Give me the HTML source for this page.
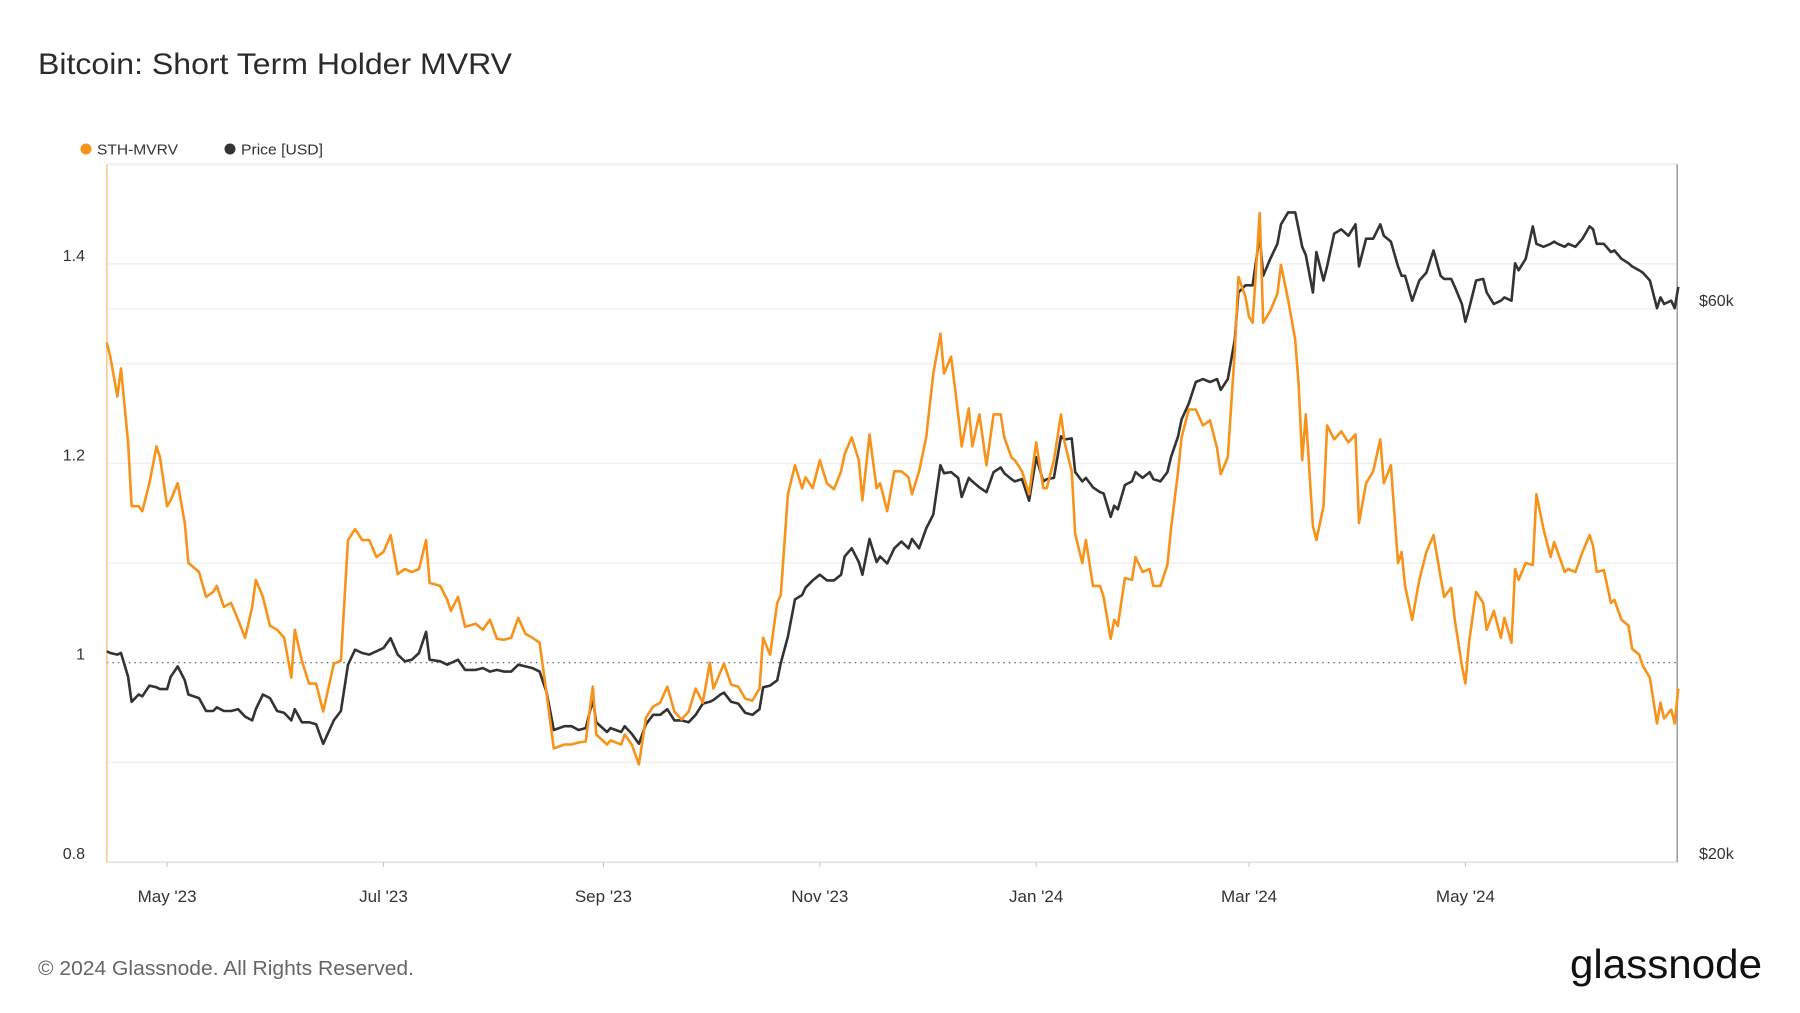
<!DOCTYPE html>
<html><head><meta charset="utf-8"><title>Bitcoin: Short Term Holder MVRV</title>
<style>
html,body{margin:0;padding:0;background:#fff;width:1800px;height:1013px;overflow:hidden;}
svg text{font-family:"Liberation Sans",Arial,sans-serif;}
</style></head>
<body>
<svg id="chart" width="1800" height="1013" viewBox="0 0 1800 1013" xmlns="http://www.w3.org/2000/svg">
  <text x="38" y="74" font-size="30" fill="#2b2b2b" textLength="474" lengthAdjust="spacingAndGlyphs">Bitcoin: Short Term Holder MVRV</text>
  <g>
    <g>
      <circle cx="86" cy="149" r="5.5" fill="#f7931a"/>
      <text x="97" y="154.5" font-size="15" fill="#333" textLength="81" lengthAdjust="spacingAndGlyphs">STH-MVRV</text>
    </g>
    <g>
      <circle cx="230" cy="149" r="5.5" fill="#333"/>
      <text x="241" y="154.5" font-size="15" fill="#333" textLength="82" lengthAdjust="spacingAndGlyphs">Price [USD]</text>
    </g>
  </g>
  <g id="grid"></g>
  <g id="axes"></g>
  <g id="series"></g>
  <text x="38" y="975" font-size="20" fill="#666" textLength="376" lengthAdjust="spacingAndGlyphs">© 2024 Glassnode. All Rights Reserved.</text>
  <text x="1570" y="978" font-size="41" fill="#111" textLength="192" lengthAdjust="spacingAndGlyphs">glassnode</text>
</svg>
<script>
// ---- data (days since 2023-04-14) ----
const days = [0,1,3,4,6,7,9,10,12,14,15,17,18,20,22,23,26,28,30,31,33,35,37,39,41,42,44,46,48,50,52,53,55,57,59,61,64,66,68,70,72,74,76,78,80,82,84,86,88,90,91,94,96,97,99,101,104,106,108,110,112,114,116,118,120,122,124,126,129,131,133,135,137,138,141,142,145,146,148,150,152,154,156,158,160,162,164,166,168,170,171,173,174,176,178,180,182,184,185,187,189,190,192,194,196,197,199,201,203,205,207,208,210,212,213,215,217,218,220,222,224,226,227,229,231,233,235,236,238,240,241,243,244,246,248,250,252,253,255,256,258,260,262,264,265,267,269,270,272,273,275,276,278,280,281,283,284,285,287,289,290,292,294,295,297,299,300,302,303,305,307,309,311,313,314,316,318,319,321,322,323,325,326,328,330,331,333,335,336,337,338,340,341,343,344,346,348,350,352,353,355,357,359,360,362,364,365,366,368,370,372,374,376,377,379,380,382,383,384,386,388,389,391,393,394,396,397,398,400,402,403,405,407,408,409,411,412,414,416,418,419,420,422,424,425,427,429,430,432,433,435,437,438,439,441,442,443];
const mvrv = [1.321,1.307,1.267,1.295,1.221,1.157,1.157,1.152,1.180,1.217,1.206,1.157,1.163,1.180,1.140,1.100,1.091,1.066,1.071,1.077,1.056,1.060,1.043,1.025,1.056,1.083,1.066,1.037,1.033,1.025,0.985,1.033,1.002,0.979,0.979,0.951,0.999,1.002,1.123,1.134,1.123,1.123,1.106,1.111,1.128,1.089,1.094,1.091,1.094,1.123,1.080,1.077,1.063,1.052,1.066,1.036,1.039,1.033,1.043,1.024,1.023,1.025,1.045,1.029,1.025,1.020,0.968,0.914,0.918,0.918,0.920,0.921,0.976,0.928,0.918,0.922,0.918,0.928,0.918,0.898,0.945,0.956,0.960,0.976,0.951,0.943,0.951,0.974,0.960,1.000,0.974,0.991,0.999,0.978,0.976,0.964,0.962,0.974,1.025,1.008,1.060,1.068,1.169,1.198,1.175,1.186,1.175,1.203,1.180,1.174,1.192,1.209,1.226,1.203,1.163,1.229,1.175,1.180,1.152,1.192,1.192,1.186,1.169,1.192,1.226,1.290,1.330,1.290,1.307,1.249,1.217,1.255,1.217,1.249,1.198,1.249,1.249,1.226,1.206,1.203,1.192,1.169,1.221,1.175,1.175,1.203,1.249,1.221,1.192,1.129,1.100,1.123,1.077,1.077,1.066,1.024,1.043,1.037,1.085,1.083,1.106,1.091,1.094,1.077,1.077,1.098,1.134,1.192,1.226,1.254,1.254,1.238,1.243,1.215,1.189,1.206,1.313,1.387,1.367,1.347,1.341,1.451,1.341,1.353,1.370,1.399,1.364,1.324,1.278,1.203,1.249,1.137,1.123,1.157,1.238,1.224,1.232,1.221,1.229,1.140,1.180,1.192,1.224,1.180,1.198,1.100,1.111,1.077,1.043,1.083,1.111,1.128,1.086,1.066,1.075,1.043,0.997,0.979,1.020,1.071,1.060,1.033,1.052,1.025,1.045,1.020,1.094,1.083,1.100,1.098,1.169,1.134,1.106,1.121,1.111,1.091,1.094,1.091,1.111,1.128,1.117,1.091,1.093,1.060,1.063,1.043,1.037,1.014,1.008,0.997,0.985,0.939,0.960,0.944,0.953,0.939,0.974];
const priceK = [30.4,30.3,30.2,30.3,28.9,27.5,27.9,27.8,28.4,28.3,28.2,28.2,28.9,29.5,28.7,27.9,27.7,27.0,27.0,27.2,27.0,27.0,27.1,26.7,26.5,27.1,27.9,27.7,27.0,26.9,26.5,27.1,26.4,26.4,26.3,25.3,26.5,27.0,29.6,30.5,30.3,30.2,30.4,30.6,31.2,30.2,29.8,29.9,30.3,31.6,29.9,29.8,29.6,29.7,29.9,29.3,29.3,29.4,29.2,29.3,29.2,29.2,29.6,29.5,29.4,29.2,28.0,26.0,26.2,26.2,26.0,26.1,27.6,26.4,25.9,26.1,25.9,26.2,25.8,25.3,26.3,26.8,26.8,27.1,26.5,26.5,26.4,26.8,27.4,27.5,27.6,27.9,28.0,27.5,27.4,26.9,26.8,27.1,28.3,28.4,28.7,29.7,31.3,33.7,34.0,34.5,35.0,35.4,35.0,35.0,35.4,36.7,37.3,36.3,35.4,38.0,36.3,36.7,36.2,37.3,37.8,37.3,38.0,37.3,38.8,39.9,44.0,43.3,43.4,42.9,41.3,42.9,42.6,42.1,41.7,43.4,43.8,43.3,42.8,42.6,42.8,41.0,44.7,42.6,42.8,42.9,46.6,46.3,46.4,43.4,42.6,42.9,42.1,41.7,41.6,39.7,40.6,40.3,42.3,42.6,43.4,42.9,43.4,42.8,42.6,43.4,44.7,46.6,48.2,49.7,51.9,52.2,51.9,52.2,51.1,52.2,56.5,62.0,62.9,62.9,62.9,69.4,64.1,66.3,68.3,71.0,72.7,72.7,70.3,67.9,66.8,62.0,67.2,63.5,65.3,69.7,70.3,69.4,71.0,65.3,69.0,69.0,71.0,69.4,68.6,65.3,64.1,64.1,61.0,63.5,64.5,67.4,64.1,63.7,63.7,62.7,60.6,58.5,60.0,63.5,63.7,62.0,60.6,61.0,61.4,61.0,65.7,64.8,66.3,70.7,68.3,67.9,68.3,68.6,68.3,67.9,68.3,67.9,69.0,70.7,70.3,68.3,68.3,67.2,67.4,66.3,65.7,65.3,64.8,64.5,63.5,60.1,61.4,60.6,61.0,60.1,62.7];
const leftTicks = [0.8,1,1.2,1.4];
const leftTickLabels = ["0.8","1","1.2","1.4"];
const leftGrid = [0.9,1.1,1.2,1.3,1.4];
const rightTicks = [20,60];
const rightTickLabels = ["$20k","$60k"];
const monthDays = [17,78,140,201,262,322,383];
const monthLabels = ["May '23","Jul '23","Sep '23","Nov '23","Jan '24","Mar '24","May '24"];

(function(){
const L=106.8,R=1677.2,T=164.2,B=862.1;
const DMAX=442.7;
const NS="http://www.w3.org/2000/svg";
function xS(d){return L+(d/DMAX)*(R-L);}
function yL(v){return B-(v-0.8)/(1.5-0.8)*(B-T);}
function yR(k){return B-Math.log(k/20)/Math.log(80/20)*(B-T);}
function mk(tag,attrs,parent){const e=document.createElementNS(NS,tag);for(const k in attrs)e.setAttribute(k,attrs[k]);parent.appendChild(e);return e;}

const grid=document.getElementById('grid');
const axes=document.getElementById('axes');
const series=document.getElementById('series');

leftGrid.forEach(v=>{
  const g=mk('line',{x1:L,x2:R,y1:yL(v),y2:yL(v),stroke:'#eeeeee','stroke-width':1.2},grid);
  
  
});
rightTicks.forEach(k=>{
  const g=mk('line',{x1:L,x2:R,y1:yR(k),y2:yR(k),stroke:'#eeeeee','stroke-width':1.2},grid);
  
  
});
const ref=mk('line',{x1:L,x2:R,y1:yL(1),y2:yL(1),stroke:'#555','stroke-width':1.2,'stroke-dasharray':'1.5 4'},grid);



const topBorder=mk('line',{x1:L,x2:R,y1:T,y2:T,stroke:'#e6e6e6','stroke-width':1.2},axes);


const bot=mk('line',{x1:L,x2:R,y1:B,y2:B,stroke:'#dcdcdc','stroke-width':1.2},axes);


const la=mk('line',{x1:L,x2:L,y1:T,y2:B,stroke:'#fbc78a','stroke-width':1.5},axes);


const ra=mk('line',{x1:R,x2:R,y1:T,y2:B,stroke:'#9a9a9a','stroke-width':1.5},axes);



leftTicks.forEach((v,i)=>{
  const t=mk('text',{x:85,y:yL(v)-3,'font-size':16,fill:'#333','text-anchor':'end'},axes);
  t.textContent=leftTickLabels[i];
  
  
});
rightTicks.forEach((k,i)=>{
  const t=mk('text',{x:1699,y:yR(k)-3,'font-size':16,fill:'#333'},axes);
  t.textContent=rightTickLabels[i];
  
  
});
monthDays.forEach((d,i)=>{
  const tk=mk('line',{x1:xS(d),x2:xS(d),y1:B,y2:B+5,stroke:'#ccc','stroke-width':1.2},axes);
  
  
  const t=mk('text',{x:xS(d),y:902,'font-size':17,fill:'#333','text-anchor':'middle'},axes);
  t.textContent=monthLabels[i];
  
  
});

function pathFor(vals,sc){
  const n=Math.min(days.length,vals.length);
  let s='';
  for(let i=0;i<n;i++){s+=(i?'L':'M')+xS(days[i]).toFixed(1)+' '+sc(vals[i]).toFixed(1)+' ';}
  return s;
}
const pricePath=mk('path',{d:pathFor(priceK,yR),fill:'none',stroke:'#333','stroke-width':2.6,'stroke-linejoin':'round'},series);


const mvrvPath=mk('path',{d:pathFor(mvrv,yL),fill:'none',stroke:'#f7931a','stroke-width':2.6,'stroke-linejoin':'round'},series);


})();
</script>
</body></html>
